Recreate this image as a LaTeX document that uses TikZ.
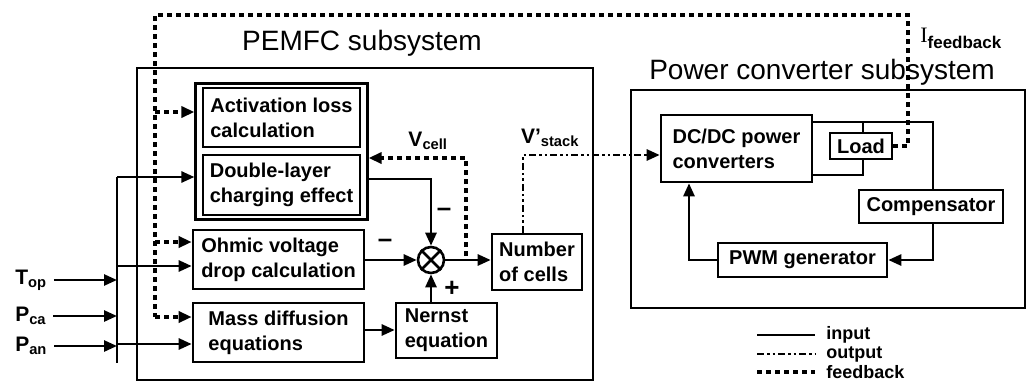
\documentclass[tikz,border=0pt]{standalone}
\usepackage{fontspec}
\setmainfont{Liberation Sans}
\newfontfamily\serifface{Liberation Serif}
\usetikzlibrary{arrows.meta, positioning, fit, calc}

\begin{document}
\begin{tikzpicture}[
  x=1pt, y=-1pt,
  line width=2.6pt,
  blk/.style={draw, rectangle, inner sep=1pt, align=left, font=\fontsize{20}{25}\selectfont\bfseries},
  lbl/.style={inner sep=0pt, font=\fontsize{21}{21}\selectfont\bfseries},
  ttl/.style={inner sep=0pt, font=\fontsize{28}{28}\selectfont},
  lgd/.style={inner sep=0pt, font=\fontsize{18}{18}\selectfont\bfseries},
  sgn/.style={inner sep=0pt, font=\fontsize{26}{26}\selectfont\bfseries},
  arr/.style={-{Triangle[length=13pt,width=11pt]}},
  fbk/.style={dash pattern=on 5pt off 4pt, line width=3.4pt},
  outp/.style={dash pattern=on 7pt off 3pt on 2.5pt off 3pt on 2.5pt off 3pt}
]
\useasboundingbox (0,0) rectangle (1027,386);

\node[ttl] (pemT) at (362,43) {PEMFC subsystem};
\node[draw, minimum width=456pt, minimum height=312pt] (pem) at (365,224) {};
\node[ttl] (pcT) at (822,72) {Power converter subsystem};
\node[draw, minimum width=394pt, minimum height=218pt] (pc) at (828,199) {};

\node[blk, minimum width=157pt, minimum height=59pt] (act) at (281.5,117.5) {Activation loss\\calculation};
\node[blk, minimum width=157pt, minimum height=60pt] (dbl) at (281.5,185) {Double-layer\\charging effect};
\node[draw, fit=(act)(dbl), inner xsep=6pt, inner ysep=3pt] (grp) {};
\node[blk, minimum width=171pt, minimum height=59pt] (ohm) at (278.5,259.5) {Ohmic voltage\\drop calculation};
\node[blk, minimum width=171pt, minimum height=59pt] (mass) at (278.5,332.5) {Mass diffusion\\equations};
\node[blk, minimum width=101pt, minimum height=55pt] (nern) at (446.5,330.5) {Nernst\\equation};
\node[blk, minimum width=90pt, minimum height=56pt] (ncell) at (537,262) {Number\\of cells};
\node[draw, circle, minimum size=26pt, inner sep=0pt] (sum) at (431,260) {};
\draw (sum.north west) -- (sum.south east) (sum.north east) -- (sum.south west);

\node[blk, minimum width=151pt, minimum height=67pt] (dcdc) at (736.5,148.5) {DC/DC power\\converters};
\node[blk, minimum width=62pt, minimum height=26pt] (load) at (861,146) {Load};
\node[blk, minimum width=144pt, minimum height=33pt] (comp) at (931,206.5) {Compensator};
\node[blk, minimum width=169pt, minimum height=34pt] (pwm) at (802.5,260) {PWM generator};

\node[lbl, anchor=west] (top) at (14,280) {T\textsubscript{op}};
\node[lbl, anchor=west] (pca) at (14,316) {P\textsubscript{ca}};
\node[lbl, anchor=west] (pan) at (14,346) {P\textsubscript{an}};
\node[lbl] (vcell) at (428,141) {V\textsubscript{cell}};
\node[lbl] (vstack) at (550,138) {V'\textsubscript{stack}};
\node[anchor=base west, inner sep=0pt] (ifb) at (919,42) {\serifface\fontsize{22}{22}\selectfont I{\rmfamily\bfseries\fontsize{17}{17}\selectfont\raisebox{-6pt}{feedback}}};
\node[sgn] (mOhm) at (385,243) {--};
\node[sgn] (mDbl) at (444,212) {--};
\node[sgn] (pNer) at (452,289) {+};

\coordinate (busT) at (117,177);
\coordinate (busO) at (117,266);
\coordinate (busM) at (117,344);
\coordinate (busB) at (117,363);
\draw (busT) -- (busB);
\foreach \inp in {top, pca, pan}
  \draw[arr, shorten <=6pt] (\inp.east) -- (\inp.east -| busB);
\draw[arr] (busT) -- (busT -| grp.west);
\draw[arr] (busO) -- (busO -| ohm.west);
\draw[arr] (busM) -- (busM -| mass.west);

\coordinate (fbTL) at (155,15);
\coordinate (fbTR) at (908,15);
\coordinate (fbA) at (155,112);
\coordinate (fbO) at (155,242);
\coordinate (fbM) at (155,317);
\draw[fbk] (load.east) -- (load.east -| fbTR) -- (fbTR) -- (fbTL) -- (fbM);
\draw[fbk, arr] (fbA) -- (fbA -| grp.west);
\draw[fbk, arr] (fbO) -- (fbO -| ohm.west);
\draw[fbk, arr] (fbM) -- (fbM -| mass.west);

\coordinate (dblO) at (367,179);
\draw[arr] (dblO) -| (sum.north);
\draw[arr] (ohm.east |- sum.west) -- (sum.west);
\draw[arr] (sum.east) -- (sum.east -| ncell.west);
\draw[arr] (nern.north -| sum.south) -- (sum.south);
\draw[arr] (mass.east |- 0,330) -- (nern.west |- 0,330);

\coordinate (vc) at (466,256);
\coordinate (vcT) at (466,158);
\draw[fbk, arr] (vc) -- (vcT) -- (vcT -| grp.east);

\coordinate (vs) at (523,155);
\draw[outp, arr] (ncell.north -| vs) -- (vs) -- (vs -| dcdc.west);

\coordinate (pT) at (933,122);
\coordinate (lb) at (863,175);
\coordinate (pw) at (689,260);
\draw (pT -| dcdc.east) -- (pT) -- (pT |- comp.north);
\draw (load.north -| lb) -- (lb |- pT);
\draw (load.south -| lb) -- (lb) -- (lb -| dcdc.east);
\draw[arr] (comp.south -| pT) |- (pwm.east);
\draw[arr] (pwm.west) -- (pw) -- (pw |- dcdc.south);

\node[lgd, anchor=west] (lgIn) at (825,335) {input};
\node[lgd, anchor=west] (lgOut) at (825,354) {output};
\node[lgd, anchor=west] (lgFb) at (825,372) {feedback};
\draw ([xshift=-68pt]lgIn.west) -- ([xshift=-10pt]lgIn.west);
\draw[outp] ([xshift=-68pt]lgOut.west) -- ([xshift=-10pt]lgOut.west);
\draw[fbk] ([xshift=-68pt]lgFb.west) -- ([xshift=-10pt]lgFb.west);

\end{tikzpicture}
\end{document}
